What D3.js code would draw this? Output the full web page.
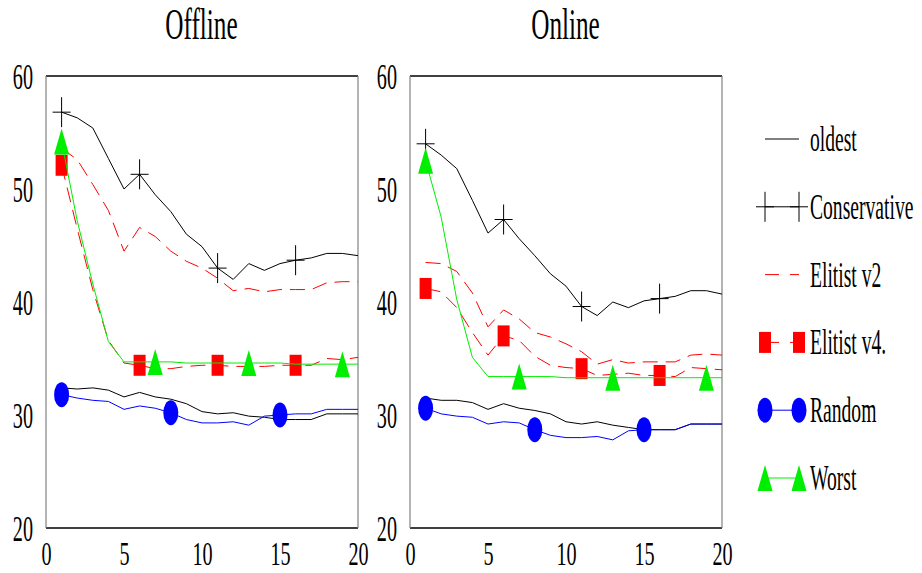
<!DOCTYPE html>
<html>
<head>
<meta charset="utf-8">
<script src="https://cdn.jsdelivr.net/npm/d3@7"></script>
<style>
  body { margin: 0; background: #fff; }
  text { font-family: "Liberation Serif", "Times New Roman", serif; fill: #000; }
</style>
</head>
<body>
<svg id="chart" width="922" height="573"></svg>
<script>
// Generations 1..20 on the x axis
const steps = d3.range(1, 21);
const xTicks = [0, 5, 10, 15, 20];
const yTicks = [20, 30, 40, 50, 60];
const panelTitles = ["Offline", "Online"];
const seriesNames = ["oldest", "Conservative", "Elitist v2", "Elitist v4.", "Random", "Worst"];

// Offline performance
const offlineOldest       = [32.4, 32.3, 32.4, 32.2, 31.6, 32.0, 31.6, 31.4, 31.0, 30.3, 30.1, 30.2, 29.9, 29.8, 29.6, 29.6, 29.6, 30.1, 30.1, 30.1];
const offlineConservative = [56.8, 56.3, 55.4, 52.7, 50.0, 51.3, 49.5, 48.0, 46.0, 44.9, 43.0, 42.0, 43.4, 42.8, 43.4, 43.7, 43.9, 44.3, 44.3, 44.1];
const offlineElitistV2    = [53.6, 52.6, 50.4, 48.1, 44.5, 46.6, 45.8, 44.5, 43.6, 43.0, 42.1, 41.0, 41.2, 40.9, 41.1, 41.1, 41.1, 41.7, 41.8, 41.8];
const offlineElitistV4    = [52.1, 46.5, 41.1, 36.6, 34.6, 34.4, 34.1, 34.1, 34.3, 34.4, 34.4, 34.3, 34.3, 34.3, 34.4, 34.4, 34.4, 35.0, 34.9, 35.1];
const offlineRandom       = [31.8, 31.5, 31.3, 31.2, 30.5, 30.8, 30.6, 30.2, 29.6, 29.3, 29.3, 29.4, 29.1, 29.9, 30.0, 30.1, 30.1, 30.5, 30.5, 30.5];
const offlineWorst        = [54.2, 47.2, 41.6, 36.5, 34.7, 34.7, 34.7, 34.7, 34.6, 34.6, 34.6, 34.6, 34.6, 34.6, 34.6, 34.5, 34.5, 34.5, 34.5, 34.5];

// Online performance
const onlineOldest        = [31.5, 31.3, 31.3, 31.1, 30.5, 31.0, 30.6, 30.4, 30.1, 29.4, 29.2, 29.4, 29.1, 28.9, 28.7, 28.7, 28.7, 29.2, 29.2, 29.2];
const onlineConservative  = [54.0, 53.0, 51.8, 49.0, 46.1, 47.3, 45.6, 44.1, 42.5, 41.4, 39.6, 38.8, 40.0, 39.5, 40.1, 40.3, 40.5, 41.0, 41.0, 40.7];
const onlineElitistV2     = [43.5, 43.4, 42.7, 40.8, 37.8, 39.3, 38.5, 37.3, 36.9, 36.3, 35.6, 34.5, 34.9, 34.6, 34.7, 34.7, 34.7, 35.3, 35.4, 35.3];
const onlineElitistV4     = [41.2, 40.9, 39.5, 37.3, 35.3, 37.0, 36.6, 35.2, 34.4, 34.2, 34.1, 33.5, 33.6, 33.7, 33.5, 33.5, 33.4, 34.2, 34.1, 34.0];
const onlineRandom        = [30.6, 30.1, 29.9, 29.8, 29.2, 29.4, 29.3, 28.7, 28.2, 28.0, 28.0, 28.1, 27.8, 28.6, 28.7, 28.7, 28.7, 29.2, 29.2, 29.2];
const onlineWorst         = [52.5, 47.5, 40.2, 35.1, 33.4, 33.4, 33.4, 33.4, 33.4, 33.3, 33.3, 33.3, 33.3, 33.3, 33.3, 33.3, 33.3, 33.3, 33.3, 33.3];

// Generations that carry a marker, per series
const conservativeMarks = [1, 6, 11, 16];
const elitistV4Marks    = [1, 6, 11, 16];
const randomMarks       = [1, 8, 15];
const worstMarks        = [1, 7, 13, 19];

const panels = [
  { title: panelTitles[0], left: 46,  data: [offlineOldest, offlineConservative, offlineElitistV2, offlineElitistV4, offlineRandom, offlineWorst] },
  { title: panelTitles[1], left: 410, data: [onlineOldest, onlineConservative, onlineElitistV2, onlineElitistV4, onlineRandom, onlineWorst] }
];

const styles = [
  { color: "#000",    dash: null,   marker: null,       marks: [] },
  { color: "#000",    dash: null,   marker: "plus",     marks: conservativeMarks },
  { color: "#ff0000", dash: "15,8", marker: null,       marks: [] },
  { color: "#ff0000", dash: "15,8", marker: "square",   marks: elitistV4Marks },
  { color: "#0000ff", dash: null,   marker: "ellipse",  marks: randomMarks },
  { color: "#00ee00", dash: null,   marker: "triangle", marks: worstMarks }
];

const SX = 0.56;           // narrow serif lettering
const plotW = 312, plotTop = 76, plotBottom = 528;
const svg = d3.select("#chart");

function drawMarker(g, kind, cx, cy, color) {
  if (kind === "plus") {
    g.append("path")
      .attr("d", `M${cx - 9},${cy}H${cx + 9}M${cx},${cy - 15}V${cy + 15}`)
      .attr("stroke", color).attr("stroke-width", 1).attr("fill", "none");
  } else if (kind === "square") {
    g.append("rect").attr("x", cx - 6).attr("y", cy - 10.5)
      .attr("width", 12).attr("height", 21).attr("fill", color);
  } else if (kind === "ellipse") {
    g.append("ellipse").attr("cx", cx).attr("cy", cy)
      .attr("rx", 7.5).attr("ry", 12.5).attr("fill", color);
  } else if (kind === "triangle") {
    g.append("path")
      .attr("d", `M${cx},${cy - 13}L${cx + 7.5},${cy + 13}L${cx - 7.5},${cy + 13}Z`)
      .attr("fill", color);
  }
}

panels.forEach(p => {
  const x = d3.scaleLinear().domain([0, 20]).range([p.left, p.left + plotW]);
  const y = d3.scaleLinear().domain([20, 60]).range([plotBottom, plotTop]);
  const g = svg.append("g");

  // frame
  g.append("line").attr("x1", x(0)).attr("x2", x(20)).attr("y1", plotTop).attr("y2", plotTop)
    .attr("stroke", "#000").attr("stroke-width", 1.3);
  g.append("line").attr("x1", x(0)).attr("x2", x(20)).attr("y1", plotBottom).attr("y2", plotBottom)
    .attr("stroke", "#000").attr("stroke-width", 1.6);
  [0, 20].forEach(v => g.append("line").attr("x1", x(v)).attr("x2", x(v))
    .attr("y1", plotTop).attr("y2", plotBottom).attr("stroke", "#808080").attr("stroke-width", 1.2));

  // axes (labels only)
  const ya = g.append("g").attr("transform", `translate(${x(0)},0)`)
    .call(d3.axisLeft(y).tickValues(yTicks).tickSize(0).tickFormat(d3.format("d")));
  ya.select(".domain").remove();
  ya.selectAll("text")
    .attr("x", -13 / SX).attr("dy", "0.34em")
    .attr("transform", `scale(${SX},1)`)
    .style("font-size", "36px").style("font-family", "'Liberation Serif', serif");

  const xa = g.append("g").attr("transform", `translate(0,${plotBottom})`)
    .call(d3.axisBottom(x).tickValues(xTicks).tickSize(0).tickFormat(d3.format("d")));
  xa.select(".domain").remove();
  xa.selectAll("text")
    .attr("y", 37.5).attr("dy", 0)
    .attr("transform", `scale(${SX * 36 / 34},1)`)
    .style("font-size", "34px").style("font-family", "'Liberation Serif', serif");

  // title
  svg.append("text")
    .attr("transform", `translate(${x(10) - 0.5},39) scale(${SX},1)`)
    .attr("text-anchor", "middle").style("font-size", "45px")
    .text(p.title);

  // series
  const line = d3.line().x((d, i) => x(steps[i])).y(d => y(d));
  p.data.forEach((vals, si) => {
    const st = styles[si];
    g.append("path").datum(vals)
      .attr("d", line).attr("fill", "none")
      .attr("stroke", st.color).attr("stroke-width", 1)
      .attr("stroke-dasharray", st.dash);
    st.marks.forEach(s => drawMarker(g, st.marker, x(s), y(vals[s - 1]), st.color));
  });
});

// legend
const legendY = d3.scaleLinear().domain([0, 5]).range([139, 478]);
const lg = svg.append("g");
seriesNames.forEach((name, i) => {
  const st = styles[i];
  const cy = legendY(i);
  lg.append("line").attr("x1", 765).attr("x2", 799).attr("y1", cy).attr("y2", cy)
    .attr("stroke", st.color).attr("stroke-width", 1)
    .attr("stroke-dasharray", st.dash ? "14,11" : null);
  if (st.marker) {
    drawMarker(lg, st.marker, 765, cy, st.color);
    drawMarker(lg, st.marker, 799, cy, st.color);
  }
  lg.append("text")
    .attr("transform", `translate(810,${cy + 12}) scale(${SX},1)`)
    .style("font-size", "35px")
    .text(name);
});
</script>
</body>
</html>
